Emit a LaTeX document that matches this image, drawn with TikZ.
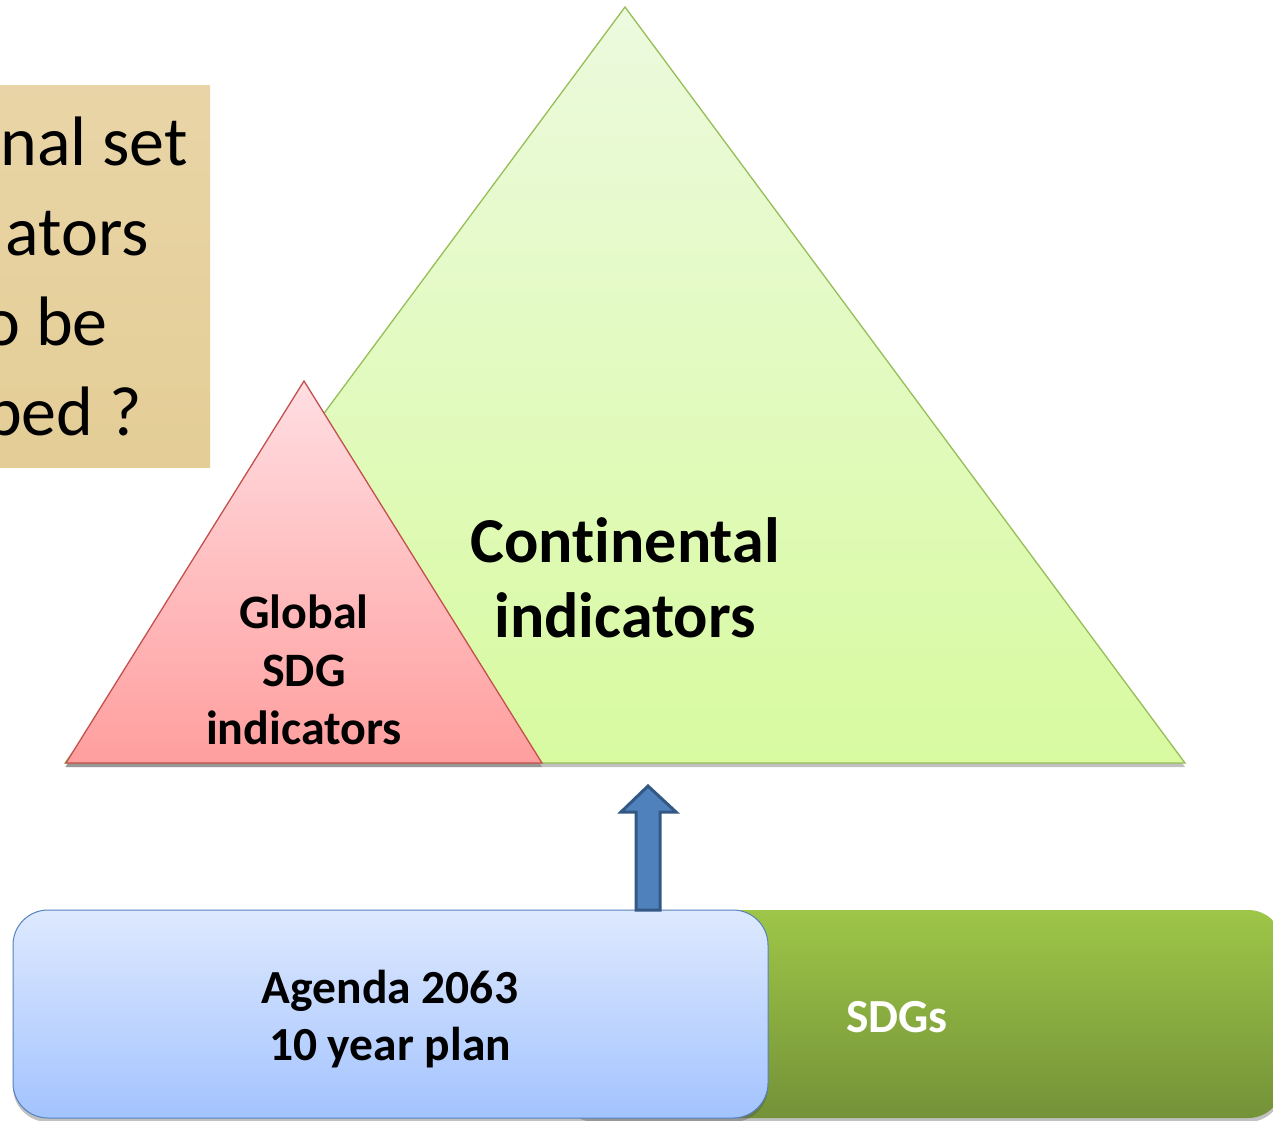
\documentclass[tikz,border=0pt]{standalone}
\usepackage{fontspec}
\setmainfont[Ligatures=NoCommon]{Carlito}
\usetikzlibrary{shadows}
\definecolor{parch}{RGB}{228,205,150}
\definecolor{grnTop}{RGB}{236,250,222}
\definecolor{grnBot}{RGB}{216,250,160}
\definecolor{grnLine}{RGB}{150,190,85}
\definecolor{pinkTop}{RGB}{255,222,226}
\definecolor{pinkBot}{RGB}{255,158,158}
\definecolor{pinkLine}{RGB}{195,80,77}
\definecolor{arrFill}{RGB}{79,129,189}
\definecolor{arrLine}{RGB}{52,88,132}
\definecolor{blueTop}{RGB}{222,233,254}
\definecolor{blueBot}{RGB}{163,195,254}
\definecolor{blueLine}{RGB}{86,130,190}
\definecolor{sdgTop}{RGB}{158,198,72}
\definecolor{sdgBot}{RGB}{116,146,56}
\tikzset{
  bigtxt/.style={font=\bfseries\fontsize{64}{75}\selectfont, align=center, inner sep=0pt},
  midtxt/.style={font=\bfseries\fontsize{48}{58}\selectfont, align=center, inner sep=0pt},
  boxtxt/.style={font=\bfseries\fontsize{47.5}{57}\selectfont, align=center, inner sep=0pt},
  qtxt/.style={font=\fontsize{70}{90}\selectfont, inner sep=0pt, anchor=base east},
  shadowed/.style={drop shadow={shadow xshift=0pt, shadow yshift=-4pt, opacity=0.35, fill=black!70}},
}
\begin{document}
\begin{tikzpicture}[x=1pt,y=-1pt]
\useasboundingbox (0,0) rectangle (1273,1120);
\fill[white] (0,0) rectangle (1273,1120);
\begin{scope}
\clip (0,0) rectangle (1273,1120);
% question box
\begin{scope}
\clip (0,85) rectangle (210,467);
\shade[top color=parch!85!white, bottom color=parch, middle color=parch!92!white] (0,85) rectangle (210,467);
\node[qtxt] (q1) at (188,165) {nal set};
\node[qtxt] (q2) at (149,255) {ators};
\node[qtxt] (q3) at (108,345) {o be};
\node[qtxt] (q4) at (142,435) {ped ?};
\end{scope}
% continental triangle
\coordinate (cA) at (625,7);
\coordinate (cL) at (65,763);
\coordinate (cR) at (1185,763);
\shade[top color=grnTop, bottom color=grnBot, draw=grnLine, line width=1.3pt, line join=miter, shadowed] (cA) -- (cR) -- (cL) -- cycle;
% global triangle
\coordinate (gA) at (304,381);
\coordinate (gL) at (66,763);
\coordinate (gR) at (542,763);
\shade[top color=pinkTop, bottom color=pinkBot, draw=pinkLine, line width=1.3pt, shadowed] (gA) -- (gR) -- (gL) -- cycle;
\node[bigtxt] (cont) at (625,578) {Continental\\indicators};
\node[midtxt] (glob) at (304,670) {Global\\SDG\\indicators};
% SDG box
\shade[top color=sdgTop, bottom color=sdgBot, rounded corners=35pt, shadowed] (560,910) rectangle (1283,1118);
\node[boxtxt, text=white] (sdg) at (897,1017) {SDGs};
% Agenda box
\shade[top color=blueTop, bottom color=blueBot, draw=blueLine, line width=1pt, rounded corners=35pt, shadowed] (13,910) rectangle (768,1118);
\node[boxtxt] (agenda) at (390,1019) {Agenda 2063\\10 year plan};
% block arrow
\coordinate (aBase) at (648,910);
\coordinate (aTip) at (648,786);
\filldraw[fill=arrFill, draw=arrLine, line width=3pt, line join=miter]
  (636,910) -- (636,812) -- (621,812) -- (aTip) -- (676,812) -- (660,812) -- (660,910) -- cycle;
\end{scope}
\end{tikzpicture}
\end{document}
